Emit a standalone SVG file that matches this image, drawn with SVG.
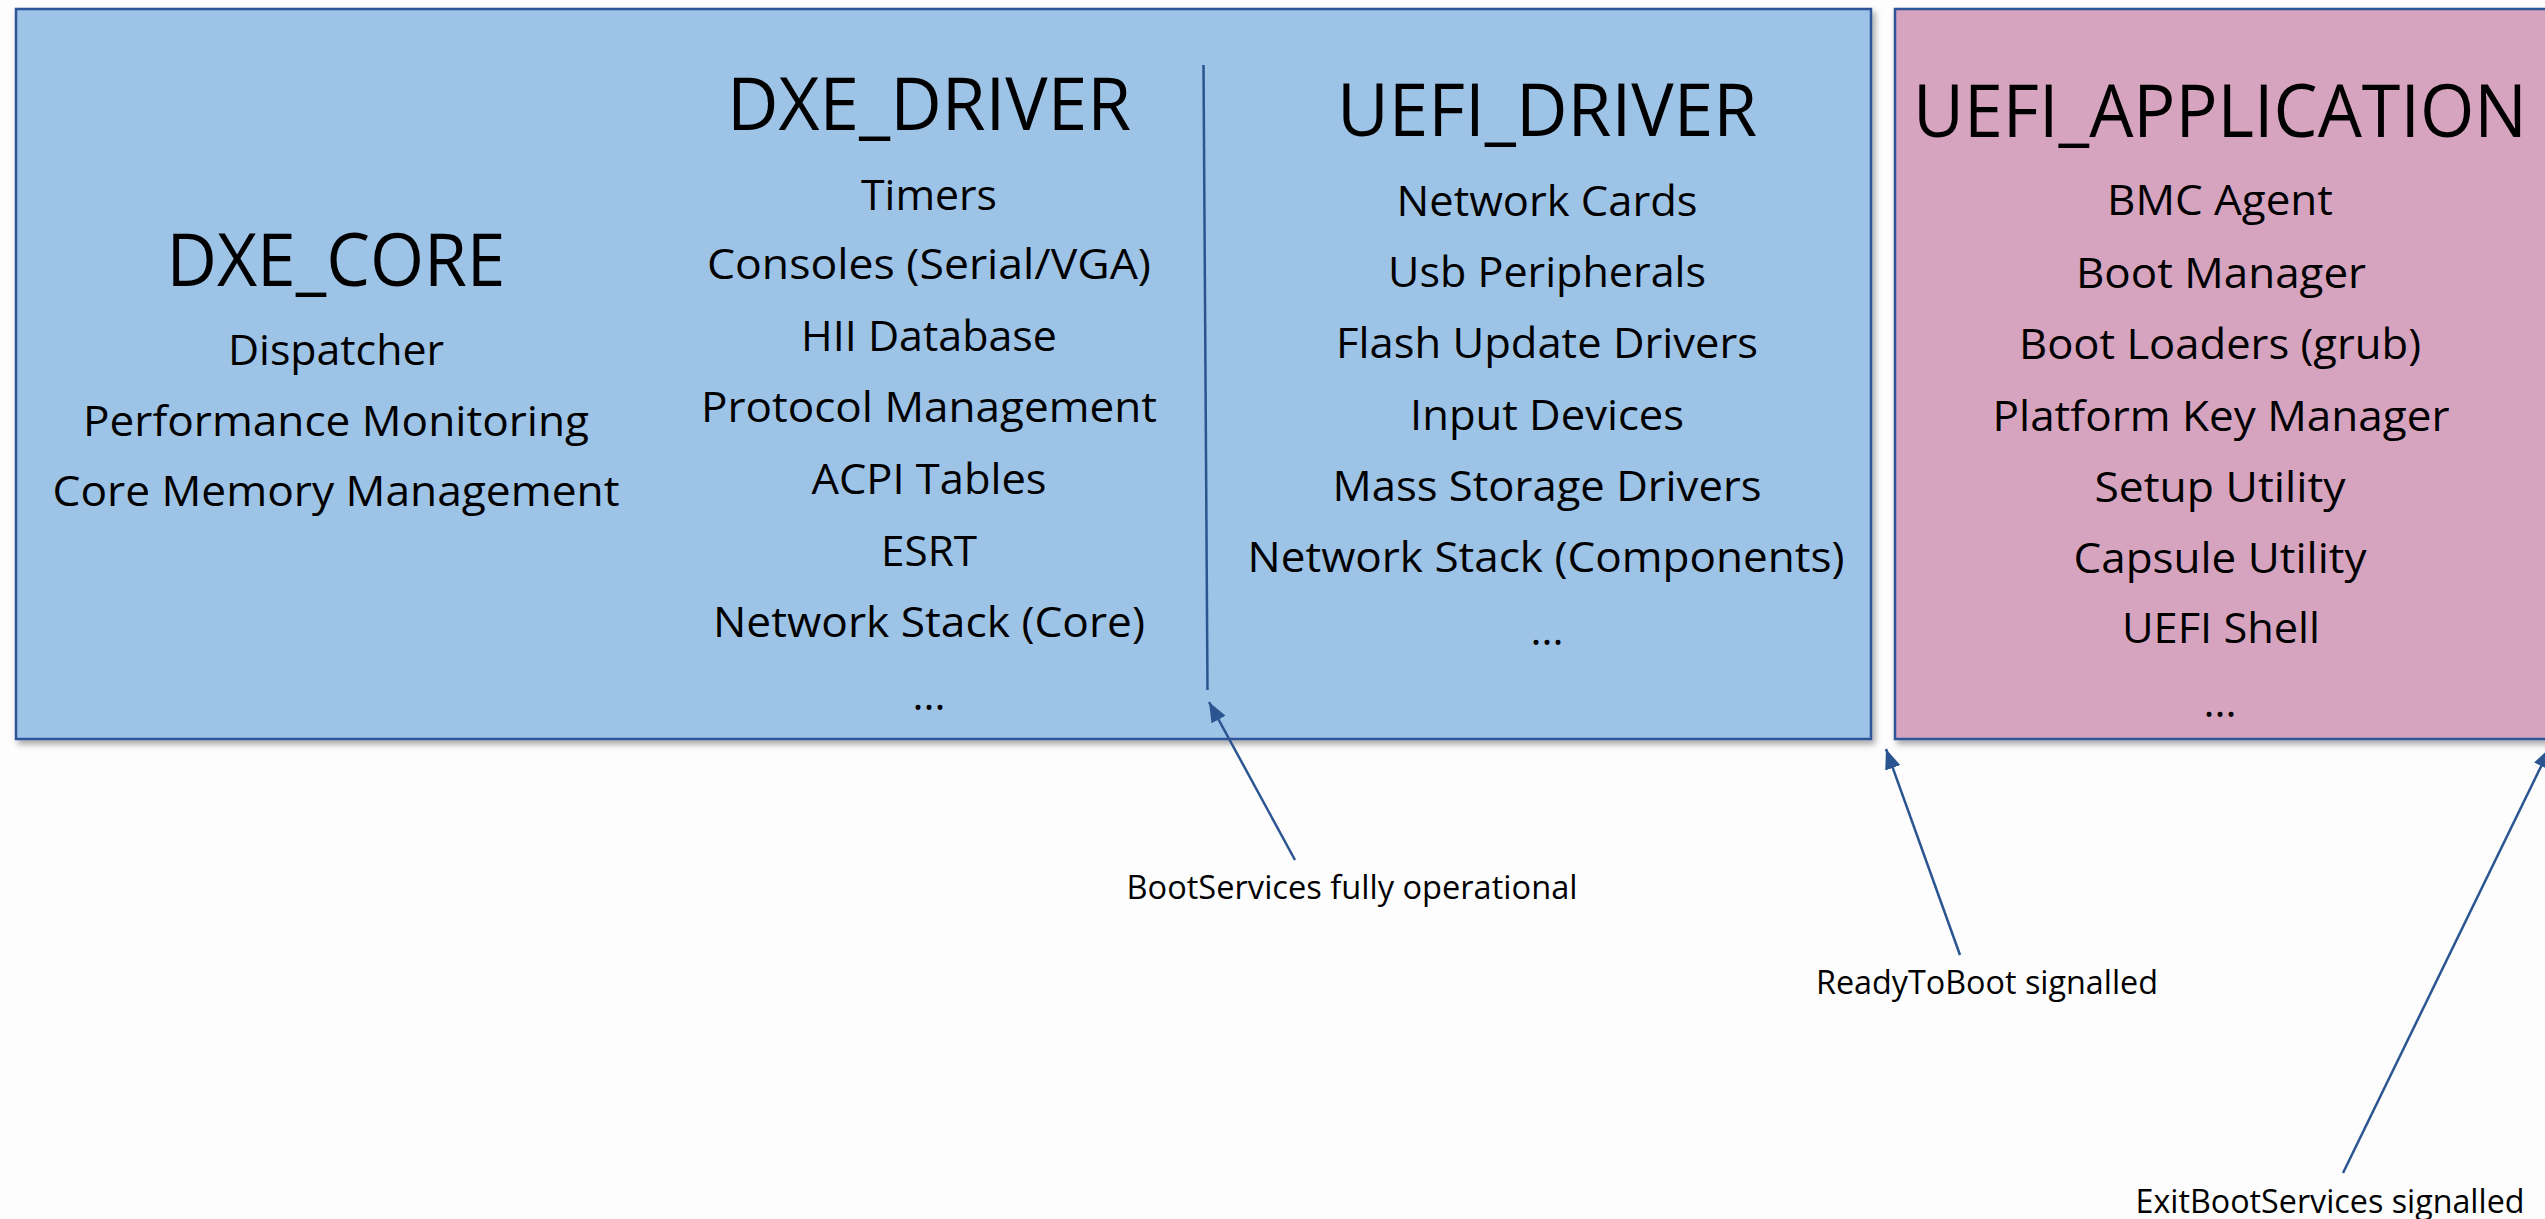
<svg xmlns="http://www.w3.org/2000/svg" width="2545" height="1219" viewBox="0 0 2545 1219">
  <style>
    text { font-family: "Open Sans", "Liberation Sans", sans-serif; fill: #000; text-anchor: middle; }
    .title { font-size: 74px; }
    .item { font-size: 42px; }
    .label { font-size: 33px; }
    .box { stroke: #2F5597; stroke-width: 2.5; }
    .conn { stroke: #2A5590; stroke-width: 2.5; fill: none; }
  </style>
  <defs>
    <filter id="shadow" x="-5%" y="-5%" width="110%" height="115%">
      <feDropShadow dx="3" dy="4" stdDeviation="3" flood-color="#000" flood-opacity="0.35"/>
    </filter>
    <marker id="arrow" viewBox="0 0 20 16" refX="20" refY="8" markerWidth="20" markerHeight="16" markerUnits="userSpaceOnUse" orient="auto">
      <path d="M0,0 L20,8 L0,16 Z" fill="#2A5590"/>
    </marker>
  </defs>

  <rect width="2545" height="1219" fill="#FDFDFD"/>

  <!-- Boot services phase: DXE core, DXE drivers and UEFI drivers -->
  <g id="boot-services">
    <rect class="box" x="16" y="9" width="1855" height="730" fill="#9DC3E6" filter="url(#shadow)"/>
  </g>

  <g id="dxe-core">
    <text class="title" x="336" y="286" textLength="339" lengthAdjust="spacingAndGlyphs">DXE_CORE</text>
    <text class="item" x="336" y="365" textLength="216" lengthAdjust="spacingAndGlyphs">Dispatcher</text>
    <text class="item" x="336" y="436" textLength="506" lengthAdjust="spacingAndGlyphs">Performance Monitoring</text>
    <text class="item" x="336" y="506" textLength="567" lengthAdjust="spacingAndGlyphs">Core Memory Management</text>
  </g>

  <g id="dxe-driver">
    <text class="title" x="929" y="130" textLength="404" lengthAdjust="spacingAndGlyphs">DXE_DRIVER</text>
    <text class="item" x="929" y="210" textLength="136" lengthAdjust="spacingAndGlyphs">Timers</text>
    <text class="item" x="929" y="279" textLength="444" lengthAdjust="spacingAndGlyphs">Consoles (Serial/VGA)</text>
    <text class="item" x="929" y="351" textLength="256" lengthAdjust="spacingAndGlyphs">HII Database</text>
    <text class="item" x="929" y="422" textLength="456" lengthAdjust="spacingAndGlyphs">Protocol Management</text>
    <text class="item" x="929" y="494" textLength="235" lengthAdjust="spacingAndGlyphs">ACPI Tables</text>
    <text class="item" x="929" y="566" textLength="96" lengthAdjust="spacingAndGlyphs">ESRT</text>
    <text class="item" x="929" y="637" textLength="432" lengthAdjust="spacingAndGlyphs">Network Stack (Core)</text>
    <text class="item" x="929" y="710">...</text>
  </g>

  <g id="uefi-driver">
    <text class="title" x="1547" y="136" textLength="420" lengthAdjust="spacingAndGlyphs">UEFI_DRIVER</text>
    <text class="item" x="1547" y="216" textLength="301" lengthAdjust="spacingAndGlyphs">Network Cards</text>
    <text class="item" x="1547" y="287" textLength="318" lengthAdjust="spacingAndGlyphs">Usb Peripherals</text>
    <text class="item" x="1547" y="358" textLength="422" lengthAdjust="spacingAndGlyphs">Flash Update Drivers</text>
    <text class="item" x="1547" y="430" textLength="274" lengthAdjust="spacingAndGlyphs">Input Devices</text>
    <text class="item" x="1547" y="501" textLength="429" lengthAdjust="spacingAndGlyphs">Mass Storage Drivers</text>
    <text class="item" x="1546" y="572" textLength="597" lengthAdjust="spacingAndGlyphs">Network Stack (Components)</text>
    <text class="item" x="1547" y="645">...</text>
  </g>

  <!-- Runtime applications -->
  <g id="uefi-application">
    <rect class="box" x="1895" y="9" width="700" height="730" fill="#D6A4BF" filter="url(#shadow)"/>
    <text class="title" x="2220" y="137" textLength="614" lengthAdjust="spacingAndGlyphs">UEFI_APPLICATION</text>
    <text class="item" x="2220" y="215" textLength="226" lengthAdjust="spacingAndGlyphs">BMC Agent</text>
    <text class="item" x="2221" y="288" textLength="290" lengthAdjust="spacingAndGlyphs">Boot Manager</text>
    <text class="item" x="2220" y="359" textLength="402" lengthAdjust="spacingAndGlyphs">Boot Loaders (grub)</text>
    <text class="item" x="2221" y="431" textLength="457" lengthAdjust="spacingAndGlyphs">Platform Key Manager</text>
    <text class="item" x="2220" y="502" textLength="251" lengthAdjust="spacingAndGlyphs">Setup Utility</text>
    <text class="item" x="2220" y="573" textLength="293" lengthAdjust="spacingAndGlyphs">Capsule Utility</text>
    <text class="item" x="2221" y="643" textLength="198" lengthAdjust="spacingAndGlyphs">UEFI Shell</text>
    <text class="item" x="2220" y="717">...</text>
  </g>

  <!-- Phase boundaries and event markers -->
  <g id="connectors">
    <line class="conn" x1="1203.5" y1="65" x2="1207.5" y2="690" stroke-width="2"/>
    <line class="conn" x1="1295" y1="860" x2="1209" y2="702" marker-end="url(#arrow)"/>
    <line class="conn" x1="1960" y1="955" x2="1886" y2="749" marker-end="url(#arrow)"/>
    <line class="conn" x1="2343" y1="1173" x2="2550" y2="748" marker-end="url(#arrow)"/>
  </g>

  <g id="event-labels">
    <text class="label" x="1352" y="899" textLength="451" lengthAdjust="spacingAndGlyphs">BootServices fully operational</text>
    <text class="label" x="1987" y="994" textLength="342" lengthAdjust="spacingAndGlyphs">ReadyToBoot signalled</text>
    <text class="label" x="2330" y="1213" textLength="389" lengthAdjust="spacingAndGlyphs">ExitBootServices signalled</text>
  </g>
</svg>
